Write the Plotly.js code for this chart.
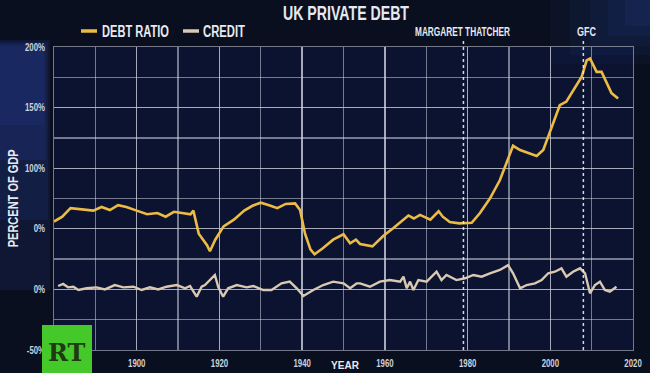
<!DOCTYPE html>
<html>
<head>
<meta charset="utf-8">
<script src="https://cdn.plot.ly/plotly-3.0.1.min.js"></script>
<style>
html,body{margin:0;padding:0;background:#0a0f1f;}
#chart{width:650px;height:373px;}
</style>
</head>
<body>
<div id="chart"></div>
<script>
// ---- data ----
const debtYears = [1880,1882,1884,1887,1889.5,1891.5,1893.5,1895.5,1897.5,1900,1902.5,1905,1907,1909,1911,1913,1913.7,1915,1917,1917.7,1919,1921,1923.5,1926,1928,1930,1932,1934,1936,1938.3,1939.5,1940.7,1942,1943,1945,1947.5,1950,1951.6,1953,1954,1957,1959.6,1962,1964.5,1965.7,1967,1968.5,1971,1973,1974,1975.7,1978,1981,1983,1985.4,1987.8,1989.4,1991,1992.7,1994.7,1996.7,1998.3,2000.3,2002.3,2003.9,2006,2007.6,2008.8,2009.6,2010.4,2011.2,2012.4,2013.6,2014.8,2016.4];
const debtRatio = [56,60,67,66,65,68,65.5,69.5,68,65,62,63,60,64,63,62,65,46,36.5,31.5,41,52,57.5,65,69,71.5,69.5,67,70.5,71,65.5,46,33,29,34,41,45.5,38,41,37.5,35.5,44,50.5,57.5,61,58.5,61.5,57.5,64.5,60,55.5,54.5,55,63,75,90,104,118.5,115,112.5,110,115,133,152,155,167,175.5,189,190.5,185,179.5,179.5,170,162,157.5];

const creditYears = [1881,1882.2,1883.4,1884.7,1885.9,1887.9,1890.3,1892.3,1894.7,1896.8,1899.2,1901.2,1903.2,1905.2,1907.2,1909.7,1911.7,1912.9,1914.5,1915.7,1916.5,1917.7,1918.9,1919.7,1920.9,1922.1,1924.2,1926.6,1928.2,1930.6,1932.6,1935,1937,1938.7,1940.3,1942.7,1945.1,1947.5,1950,1951.6,1953.2,1954,1956.4,1958.8,1961.2,1963.7,1964.5,1965.3,1966.1,1966.9,1968.1,1970.1,1972.5,1973.7,1974.9,1977.3,1979.4,1981.4,1983.4,1985.4,1987.8,1989.8,1991,1992.7,1994.3,1996.3,1997.9,1999.5,2001.1,2002.7,2003.9,2005.5,2007.2,2008.4,2009.6,2010.8,2012,2013.2,2014.4,2016];
const credit = [2.8,4.5,1.7,2.2,-0.5,0.9,1.7,0,3.6,1.7,2.2,-0.5,1.7,0,2.2,3.6,0.9,2.8,-6,2.2,3.6,7.7,11.9,2.2,-6,0.9,3.6,1.7,2.8,-0.5,-0.5,5,6.4,0.9,-5.4,-0.5,3.6,6.4,5,0.9,5,5,2.2,6.4,7.7,6.4,10.5,0.9,6.4,-0.5,7.7,6.4,14.6,7.7,11.9,7.7,9.2,11.9,10.5,13.3,16,20,13.3,0.9,3.6,5,7.7,13.3,14.6,17.4,10.5,14.6,17.4,13.3,-3.2,3.6,6.4,-0.5,-1.9,2.2];

const yTickVals = [-50,0,50,100,150,200];
const yTickText = ['-50%','0%','0%','100%','150%','200%'];
const xTickVals = [1900,1920,1940,1960,1980,2000,2020];
const eventYears = [1979, 2008];
const eventLabels = ['MARGARET THATCHER', 'GFC'];
const seriesNames = ['DEBT RATIO', 'CREDIT'];

// ---- styling ----
const FONT = '"Liberation Sans", Arial, sans-serif';
const debtColor = '#ecbb45';
const creditColor = '#d9c8b2';
const gridColor = 'rgba(205,210,220,0.55)';
const textColor = '#e6e9ef';

// plot area pixels: x 54..633, y 47..350
const M = {l:54, r:17, t:47, b:23};
const PW = 650 - M.l - M.r, PH = 373 - M.t - M.b;
const px = x => (x - M.l) / PW;
const py = y => (373 - M.b - y) / PH;

const traces = [
  {x: debtYears, y: debtRatio, type:'scatter', mode:'lines', name: seriesNames[0],
   line:{color: debtColor, width:2.6}, hoverinfo:'skip'},
  {x: creditYears, y: credit, type:'scatter', mode:'lines', name: seriesNames[1],
   line:{color: creditColor, width:2.4}, hoverinfo:'skip'}
];

const shapes = [];
// soft background glows (stacked translucent rects)
[[0,50,40,290,0.16],[0,48,42,220,0.16],[0,46,44,160,0.18],[0,44,46,125,0.15]].forEach(r => {
  shapes.push({type:'rect', xref:'paper', yref:'paper', x0:px(r[0]), x1:px(r[1]), y0:py(r[3]), y1:py(r[2]),
    fillcolor:'#2a44a0', opacity:r[4], line:{width:0}, layer:'below'});
});
[[550,650,0,64,0.06],[570,650,0,55,0.07],[590,650,0,46,0.08],[608,650,0,36,0.09],[625,650,0,26,0.1]].forEach(r => {
  shapes.push({type:'rect', xref:'paper', yref:'paper', x0:px(r[0]), x1:px(r[1]), y0:py(r[3]), y1:py(r[2]),
    fillcolor:'#3050b0', opacity:r[4], line:{width:0}, layer:'below'});
});
eventYears.forEach(yr => {
  shapes.push({type:'line', xref:'x', yref:'paper', x0:yr, x1:yr, y0:0, y1:py(40),
    line:{color:'rgba(235,238,245,0.9)', width:1.5, dash:'dot'}});
});
// legend swatches
shapes.push({type:'line', xref:'paper', yref:'paper', x0:px(81), x1:px(97), y0:py(31), y1:py(31),
  line:{color:debtColor, width:3.5}});
shapes.push({type:'line', xref:'paper', yref:'paper', x0:px(183), x1:px(199), y0:py(31), y1:py(31),
  line:{color:creditColor, width:3.5}});
// RT logo
shapes.push({type:'rect', xref:'paper', yref:'paper', x0:px(42), x1:px(92), y0:py(373), y1:py(325),
  fillcolor:'#45c82a', line:{width:0}, layer:'above'});

// annotations; horizontal condensed labels are left-anchored at their left edge, with a target length (px)
const annotations = [];
const targetLen = [];
function addAnn(a, len){ annotations.push(a); targetLen.push(len); }

addAnn({text:'<b>UK PRIVATE DEBT</b>', xref:'paper', yref:'paper', x:px(281), y:py(12),
   showarrow:false, font:{family:FONT, size:21, color:textColor}, xanchor:'left', yanchor:'middle'}, 126);
addAnn({text:'<b>' + seriesNames[0] + '</b>', xref:'paper', yref:'paper', x:px(100), y:py(31),
   showarrow:false, font:{family:FONT, size:16, color:textColor}, xanchor:'left', yanchor:'middle'}, 67);
addAnn({text:'<b>' + seriesNames[1] + '</b>', xref:'paper', yref:'paper', x:px(201), y:py(31),
   showarrow:false, font:{family:FONT, size:16, color:textColor}, xanchor:'left', yanchor:'middle'}, 42);
addAnn({text:'<b>PERCENT OF GDP</b>', xref:'paper', yref:'paper', x:px(12), y:py(199), textangle:-90,
   showarrow:false, font:{family:FONT, size:15, color:textColor}, xanchor:'center', yanchor:'middle'}, 98);
addAnn({text:'<b>YEAR</b>', xref:'paper', yref:'paper', x:px(329), y:py(373),
   showarrow:false, font:{family:FONT, size:11, color:textColor}, xanchor:'left', yanchor:'bottom'}, 28);
addAnn({text:'<b>RT</b>', xref:'paper', yref:'paper', x:px(67), y:py(352),
   showarrow:false, font:{family:'"DejaVu Serif", serif', size:24, color:'#1d3a12'}, xanchor:'center', yanchor:'middle'}, 0);
addAnn({text:'<b>' + eventLabels[0] + '</b>', xref:'paper', yref:'paper', x:px(413), y:py(32),
    showarrow:false, font:{family:FONT, size:12, color:textColor}, xanchor:'left', yanchor:'middle'}, 95);
addAnn({text:'<b>' + eventLabels[1] + '</b>', xref:'paper', yref:'paper', x:px(575), y:py(32),
    showarrow:false, font:{family:FONT, size:12, color:textColor}, xanchor:'left', yanchor:'middle'}, 19);

const tickFont = {family:FONT, size:10, color:'#cdd2da', weight:'bold'};
const layout = {
  width:650, height:373,
  margin:{l:M.l, r:M.r, t:M.t, b:M.b, pad:0},
  paper_bgcolor:'#0a0f1f',
  plot_bgcolor:'#0b1330',
  showlegend:false,
  xaxis:{range:[1880,2020], tickvals:xTickVals, ticktext:xTickVals.map(String),
    showgrid:true, gridcolor:gridColor, gridwidth:1.3,
    minor:{dtick:10, tick0:1880, showgrid:true, gridcolor:gridColor, gridwidth:1.3},
    zeroline:false, showline:true, linecolor:gridColor, mirror:true, ticks:'',
    tickfont:tickFont, ticklabelstandoff:4},
  yaxis:{range:[-50,200], tickvals:yTickVals, ticktext:yTickText,
    showgrid:true, gridcolor:gridColor, gridwidth:1.3,
    minor:{dtick:25, tick0:0, showgrid:true, gridcolor:gridColor, gridwidth:1.3},
    zeroline:false, showline:true, linecolor:gridColor, mirror:true, ticks:'',
    tickfont:tickFont, ticklabelstandoff:6},
  shapes: shapes,
  annotations: annotations
};

// compress a text element to `len` px, keeping it aligned ('start' | 'middle' | 'end') to its original box
function condense(t, len, align){
  const b0 = t.getBBox();
  t.setAttribute('textLength', len.toFixed(1));
  t.setAttribute('lengthAdjust', 'spacingAndGlyphs');
  const b1 = t.getBBox();
  let dx;
  if (align === 'start') dx = b0.x - b1.x;
  else if (align === 'end') dx = (b0.x + b0.width) - (b1.x + b1.width);
  else dx = (b0.x + b0.width/2) - (b1.x + b1.width/2);
  const prev = t.getAttribute('transform') || '';
  t.setAttribute('transform', 'translate(' + dx.toFixed(2) + ',0) ' + prev);
}

Plotly.newPlot('chart', traces, layout, {staticPlot:true, displayModeBar:false}).then(gd => {
  gd.querySelectorAll('.annotation').forEach(g => {
    const i = +g.getAttribute('data-index');
    const len = targetLen[i];
    if (!len) return;
    const t = g.querySelector('text.annotation-text');
    if (t) condense(t, len, annotations[i].xanchor === 'left' ? 'start' : 'middle');
  });
  gd.querySelectorAll('.xtick text').forEach(t => condense(t, t.getComputedTextLength() * 0.78, 'middle'));
  gd.querySelectorAll('.ytick text').forEach(t => condense(t, t.getComputedTextLength() * 0.78, 'end'));
});
</script>
</body>
</html>
